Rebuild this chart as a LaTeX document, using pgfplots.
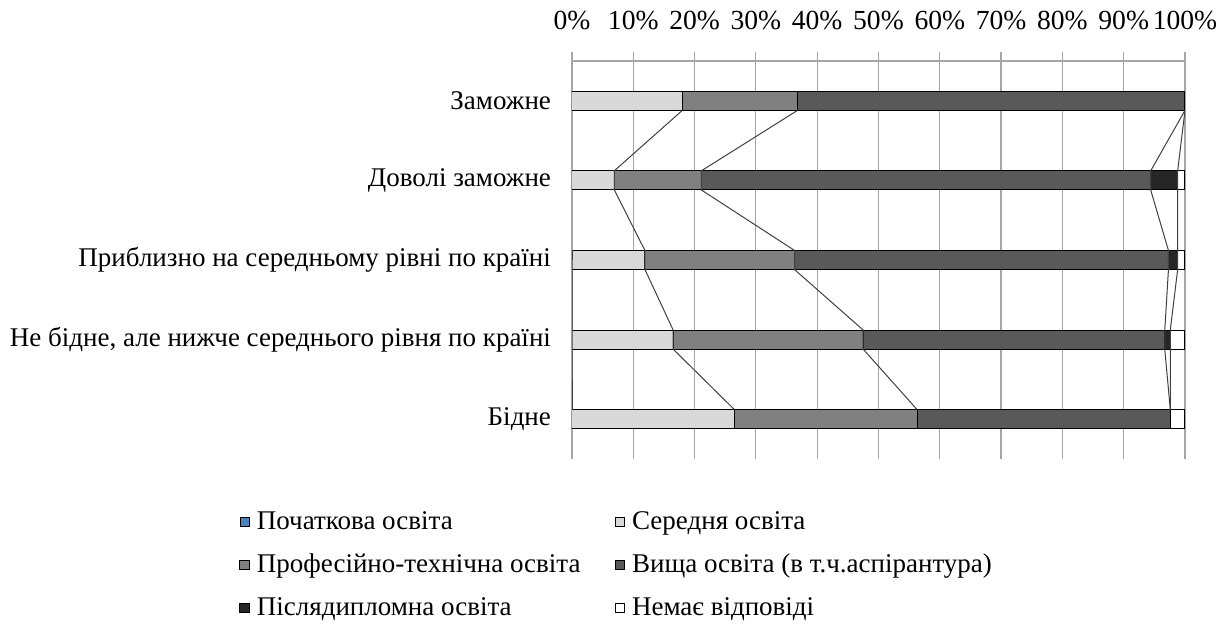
\documentclass[border=0pt]{standalone}
\usepackage{fontspec}
\setmainfont{Liberation Serif}
\usepackage{pgfplots}
\pgfplotsset{compat=1.18}
\definecolor{cSer}{HTML}{D9D9D9}
\definecolor{cProf}{HTML}{808080}
\definecolor{cVys}{HTML}{595959}
\definecolor{cPisl}{HTML}{262626}
\definecolor{cPoch}{HTML}{4F81BD}
\definecolor{cGrid}{HTML}{A6A6A6}
\definecolor{cLine}{HTML}{404040}
\begin{document}
\begin{tikzpicture}[font=\rmfamily\fontsize{13.5}{15}\selectfont]
\useasboundingbox (-286pt,-83pt) rectangle (324pt,229.5pt);
\pgfplotsset{myaxis/.style={at={(0,0)}, anchor=south west, scale only axis,
  width=306.5pt, height=199pt, xmin=0, xmax=100, ymin=-0.5, ymax=4.5}}
\begin{axis}[myaxis, xbar stacked, bar width=9.5pt,
  axis line style={draw=none},
  xtick={0,10,...,100},
  xtick pos=upper, xticklabel pos=upper,
  xticklabels={0\%,10\%,20\%,30\%,40\%,50\%,60\%,70\%,80\%,90\%,100\%},
  xmajorgrids, grid style={cGrid, line width=0.6pt},
  x tick style={cGrid, line width=0.6pt},
  tick align=outside, major tick length=4.5pt,
  xticklabel style={yshift=7.5pt, font=\rmfamily\fontsize{13.8}{15}\selectfont},
  ytick={0,1,2,3,4},
  yticklabels={Бідне, {Не бідне, але нижче середнього рівня по країні}, Приблизно на середньому рівні по країні, Доволі заможне, Заможне},
  y tick style={draw=none},
  yticklabel style={xshift=-2.5pt, font=\rmfamily\fontsize{13.5}{15}\selectfont},
  legend columns=2,
  legend cell align=left,
  legend image code/.code={\draw[#1] (0pt,-2.3pt) rectangle (4.6pt,2.3pt); \path[draw=none, fill=none] (0pt,0pt) -- (6.5pt,0pt);},
  legend style={draw=none, fill=none, at={(-0.553,-0.11)}, anchor=north west,
    row sep=7pt, /tikz/every even column/.append style={column sep=15pt},
    font=\rmfamily\fontsize{13.5}{15}\selectfont},
]
\addplot[fill=cPoch, draw=none] coordinates {(0,0) (0,1) (0,2) (0,3) (0,4)};
\addlegendentry{Початкова освіта}
\addplot[fill=cSer, draw=black, line width=0.5pt] coordinates {(26.5,0) (16.5,1) (11.9,2) (6.9,3) (18.0,4)};
\addlegendentry{Середня освіта}
\addplot[fill=cProf, draw=black, line width=0.5pt] coordinates {(29.8,0) (31.0,1) (24.4,2) (14.2,3) (18.8,4)};
\addlegendentry{Професійно-технічна освіта}
\addplot[fill=cVys, draw=black, line width=0.5pt] coordinates {(41.3,0) (49.2,1) (61.0,2) (73.3,3) (63.2,4)};
\addlegendentry{Вища освіта (в т.ч.аспірантура)}
\addplot[fill=cPisl, draw=black, line width=0.5pt] coordinates {(0,0) (0.9,1) (1.5,2) (4.4,3) (0,4)};
\addlegendentry{Післядипломна освіта}
\addplot[fill=white, draw=black, line width=0.5pt] coordinates {(2.4,0) (2.4,1) (1.2,2) (1.2,3) (0,4)};
\addlegendentry{Немає відповіді}
\end{axis}
\begin{axis}[myaxis, hide axis]
\addplot[no marks, cGrid, line width=0.6pt] coordinates {(0,4.5) (100,4.5)};
\addplot[no marks, cLine, line width=0.5pt] coordinates {(18,3.88) (6.9,3.12) (6.9,2.88) (11.9,2.12) (11.9,1.88) (16.5,1.12) (16.5,0.88) (26.5,0.12)};
\addplot[no marks, cLine, line width=0.5pt] coordinates {(36.8,3.88) (21.1,3.12) (21.1,2.88) (36.3,2.12) (36.3,1.88) (47.5,1.12) (47.5,0.88) (56.3,0.12)};
\addplot[no marks, cLine, line width=0.5pt] coordinates {(100,3.88) (94.4,3.12) (94.4,2.88) (97.3,2.12) (97.3,1.88) (96.7,1.12) (96.7,0.88) (97.6,0.12)};
\addplot[no marks, cLine, line width=0.5pt] coordinates {(100,3.88) (98.8,3.12) (98.8,2.88) (98.8,2.12) (98.8,1.88) (97.6,1.12) (97.6,0.88) (97.6,0.12)};
\addplot[no marks, cLine, line width=0.5pt] coordinates {(0,2.12) (0,1.88) (0,1.12) (0,0.88) (0,0.12)};
\end{axis}
\end{tikzpicture}
\end{document}
